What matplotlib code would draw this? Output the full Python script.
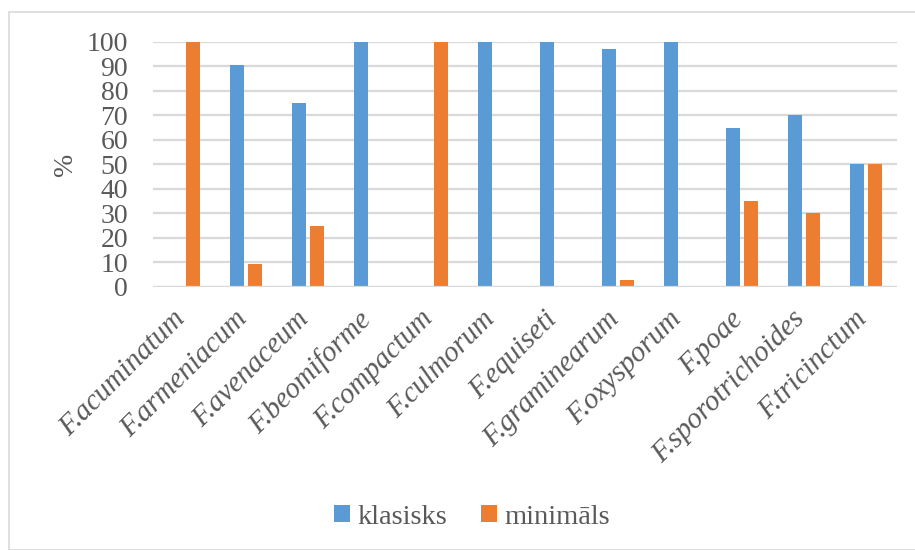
import matplotlib
matplotlib.use("Agg")
import matplotlib.pyplot as plt
import matplotlib.transforms as mtransforms
from matplotlib.patches import Rectangle
import numpy as np

# Share of isolates per Fusarium species, by medium (%)
species = ["F.acuminatum", "F.armeniacum", "F.avenaceum", "F.beomiforme",
           "F.compactum", "F.culmorum", "F.equiseti", "F.graminearum",
           "F.oxysporum", "F.poae", "F.sporotrichoides", "F.tricinctum"]
klasisks = [0, 90.6, 75, 100, 0, 100, 100, 97, 100, 65, 70, 50]
minimals = [100, 9.4, 25, 0, 100, 0, 0, 3, 0, 35, 30, 50]
series_names = ["klasisks", "minimāls"]
y_ticks = [0, 10, 20, 30, 40, 50, 60, 70, 80, 90, 100]

BLUE = "#5B9BD5"
ORANGE = "#ED7D31"
GRID = "#D9D9D9"
TEXT = "#595959"
SERIF = ["Liberation Serif", "DejaVu Serif"]

plt.rcParams["font.family"] = SERIF

W, H = 915, 550
fig = plt.figure(figsize=(W / 100, H / 100), dpi=100)

# light chart frame
fig.patches.append(Rectangle((9 / W, 0), 1.0, 1 - 12 / H, transform=fig.transFigure,
                             fill=False, edgecolor=GRID, linewidth=1.2))

left, right, top, bottom = 153, 897, 41.7, 287
ax = fig.add_axes([left / W, 1 - bottom / H, (right - left) / W, (bottom - top) / H])

x = np.arange(len(species))
bw = 0.225
off = 0.145
ax.bar(x - off, klasisks, width=bw, color=BLUE, label=series_names[0], zorder=3)
ax.bar(x + off, minimals, width=bw, color=ORANGE, label=series_names[1], zorder=3)

ax.set_xlim(-0.5, len(species) - 0.5)
ax.set_ylim(0, 100)
ax.set_yticks(y_ticks)
ax.set_yticklabels([str(v) for v in y_ticks], fontsize=20, color=TEXT)
ax.tick_params(axis="y", length=0, pad=18)
ax.tick_params(axis="x", length=0, pad=0)

ax.yaxis.grid(True, color=GRID, linewidth=1.6, zorder=0)
ax.set_axisbelow(True)
for s in ax.spines.values():
    s.set_visible(False)
ax.axhline(0, color=GRID, linewidth=1.6, zorder=4)

ax.set_xticks(x)
labels = ax.set_xticklabels(species, rotation=45, ha="right", va="top",
                            rotation_mode="anchor", fontsize=21, style="italic",
                            color=TEXT)
shift = mtransforms.ScaledTranslation(-12 / 100, -19 / 100, fig.dpi_scale_trans)
for lab in labels:
    lab.set_transform(lab.get_transform() + shift)

ax.set_ylabel("%", fontsize=20, color=TEXT, labelpad=6.5)

leg = fig.legend(loc="center", bbox_to_anchor=(472 / W, 1 - 517 / H), ncol=2,
                 frameon=False, fontsize=20.5, handlelength=0.55, handleheight=0.55,
                 handletextpad=0.25, columnspacing=1.2)
for t in leg.get_texts():
    t.set_color(TEXT)

fig.savefig("out.png", dpi=100)
